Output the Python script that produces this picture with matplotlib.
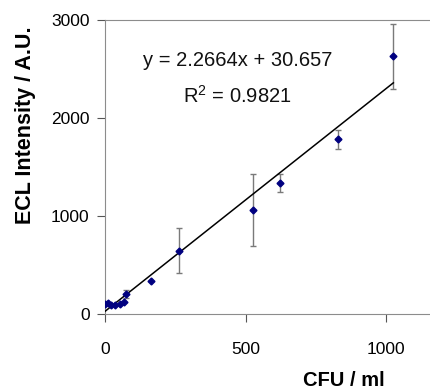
import matplotlib.pyplot as plt
import numpy as np

plt.rcParams['font.family'] = ['Liberation Sans', 'DejaVu Sans']
plt.rcParams['mathtext.fontset'] = 'custom'
plt.rcParams['mathtext.rm'] = 'Liberation Sans'
plt.rcParams['mathtext.default'] = 'regular'

# data
cfu = np.array([0, 12, 22, 35, 54, 68, 76, 163, 264, 528, 623, 828, 1026])
ecl = np.array([110, 118, 100, 97, 101, 125, 205, 342, 647, 1061, 1339, 1780, 2628])
ecl_err = np.array([0, 0, 0, 0, 0, 0, 40, 0, 229, 365, 90, 100, 330])

# linear trend shown on chart
slope = 2.2664
intercept = 30.657
r2 = 0.9821

fig = plt.figure(figsize=(4.31, 3.91), dpi=100)
ax = fig.add_axes([0.2436, 0.196, 0.7564, 0.754])

has_err = ecl_err > 0
ax.errorbar(cfu[has_err], ecl[has_err], yerr=ecl_err[has_err], fmt='none',
            ecolor='#7a7a7a', elinewidth=1.0, capsize=2.5, capthick=1.0, zorder=2)

x_fit = np.array([0, cfu.max()])
ax.plot(x_fit, slope * x_fit + intercept, color='black', lw=1.1, zorder=3)

ax.plot(cfu, ecl, 'D', color='#000080', markersize=3.5, zorder=4)

ax.text(471, 2579, f"y = {slope}x + {intercept}", ha='center', va='center',
        fontsize=14.5, color='#111111')
ax.text(471, 2222, f"R$^2$ = {r2}", ha='center', va='center',
        fontsize=14.5, color='#111111')

ax.set_xlim(0, 1160)
ax.set_ylim(0, 3000)
ax.set_xticks([0, 500, 1000])
ax.set_yticks([0, 1000, 2000, 3000])

for side in ['left', 'bottom', 'top']:
    ax.spines[side].set_color('#8c8c8c')
ax.spines['right'].set_visible(False)

ax.tick_params(axis='x', direction='out', length=6, color='#555555',
               labelsize=12.5, pad=14)
ax.tick_params(axis='y', direction='out', length=6, color='#555555',
               labelsize=12.5, pad=5)

fig.text(0.060, 0.68, "ECL Intensity / A.U.", rotation=90, ha='center', va='center',
         fontsize=15.5, fontweight='bold')
fig.text(0.893, 0.026, "CFU / ml", ha='right', va='center',
         fontsize=14.5, fontweight='bold')

fig.savefig("out.png", dpi=100)
